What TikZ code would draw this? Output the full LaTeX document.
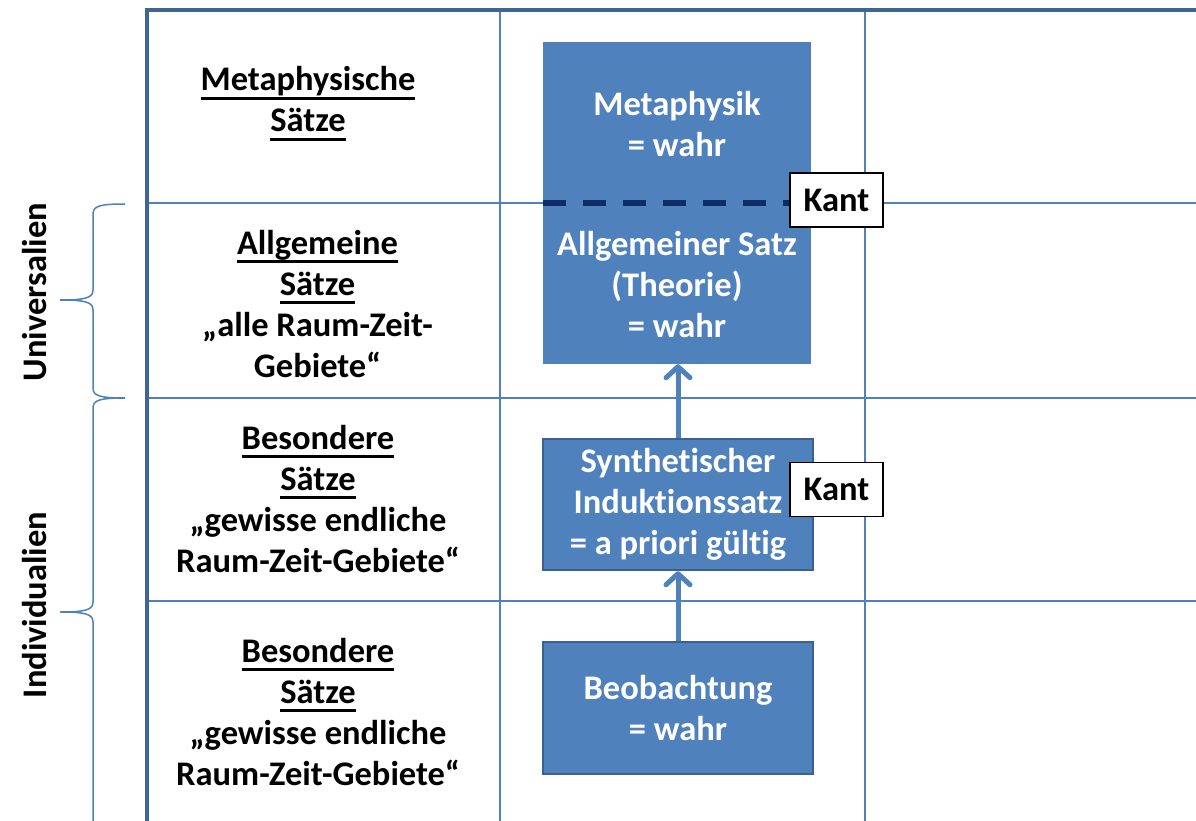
\documentclass[tikz,border=0pt]{standalone}
\usepackage{fontspec}
\setmainfont{Carlito}[Ligatures=NoCommon]
\usetikzlibrary{arrows.meta}
\definecolor{gridblue}{HTML}{4F81BD}
\definecolor{frameblue}{HTML}{3E6596}
\definecolor{boxedge}{HTML}{3A6192}
\definecolor{navy}{HTML}{0D2B66}
% underlined word with a thick rule below the baseline
\newcommand\ulword[1]{\setbox0\hbox{#1}\rlap{\rule[-9pt]{\wd0}{3pt}}\box0}
\begin{document}
\begin{tikzpicture}[x=1pt,y=-1pt,
  txt/.style={font=\fontsize{34.5}{41}\selectfont\bfseries, align=center, inner sep=0pt},
  bluebox/.style={fill=gridblue, inner sep=0pt},
  edgebox/.style={bluebox, draw=boxedge, line width=2.5pt},
  kantbox/.style={draw=black, line width=1.2pt, fill=white, minimum width=93pt, minimum height=54pt, inner sep=0pt, font=\fontsize{34.5}{41}\selectfont\bfseries},
  gridline/.style={draw=gridblue, line width=2pt},
  frameline/.style={draw=frameblue, line width=4pt},
  bracestyle/.style={draw=gridblue, line width=1.5pt},
  uparrow/.style={draw=gridblue, line width=5pt, -{Straight Barb[length=11pt,width=24pt,round]}}]
\useasboundingbox (0,0) rectangle (1196,821);
\fill[white] (0,0) rectangle (1196,821);

% table grid
\coordinate (tl) at (147,10);
\draw[gridline] (500,10) -- (500,821);
\draw[gridline] (865,10) -- (865,821);
\draw[gridline] (147,203) -- (1196,203);
\draw[gridline] (147,398) -- (1196,398);
\draw[gridline] (147,601) -- (1196,601);
\draw[frameline] (147,821) -- (tl) -- (1196,10);

% left column labels
\node[txt] (metas) at (308,103.5) {\ulword{Metaphysische}\\\ulword{Sätze}};
\node[txt] (allg) at (317.5,304) {\ulword{Allgemeine}\\\ulword{Sätze}\\„alle Raum-Zeit-\\Gebiete“};
\node[txt] (bes1) at (318,499) {\ulword{Besondere}\\\ulword{Sätze}\\„gewisse endliche\\Raum-Zeit-Gebiete“};
\node[txt] (bes2) at (318,712) {\ulword{Besondere}\\\ulword{Sätze}\\„gewisse endliche\\Raum-Zeit-Gebiete“};

% braces on the left
\draw[bracestyle] (125,204) .. controls (100,204) and (93,206) .. (93,214)
  -- (93,290) .. controls (93,298) and (85,300) .. (60,300)
  .. controls (85,300) and (93,302) .. (93,310)
  -- (93,388) .. controls (93,396) and (100,398) .. (125,398);
\draw[bracestyle] (125,398) .. controls (100,398) and (93,400) .. (93,408)
  -- (93,602) .. controls (93,610) and (85,612) .. (60,612)
  .. controls (85,612) and (93,614) .. (93,622)
  -- (93,821);
\node[txt, rotate=90] (univ) at (35,292) {Universalien};
\node[txt, rotate=90] (indiv) at (35,605) {Individualien};

% blue statement boxes
\node[bluebox, minimum width=268pt, minimum height=322pt] (theory) at (677,203) {};
\node[txt, text=white] (metaph) at (677,124) {Metaphysik\\= wahr};
\node[txt, text=white] (allgsatz) at (677,285) {Allgemeiner Satz\\(Theorie)\\= wahr};
\draw[navy, line width=5.5pt, dash pattern=on 23pt off 17pt] (theory.west |- 0,203) -- (790,203);

\node[edgebox, minimum width=270pt, minimum height=131pt, txt, text=white] (induk) at (678,504.5) {Synthetischer\\Induktionssatz\\= a priori gültig};
\node[edgebox, minimum width=270pt, minimum height=132pt, txt, text=white] (beob) at (678,708) {Beobachtung\\= wahr};

% Kant labels
\node[kantbox] (kant1) at (836.5,200) {Kant};
\node[kantbox] (kant2) at (836.5,489.5) {Kant};

% inference arrows
\draw[uparrow] (beob.north) -- (induk.south);
\draw[uparrow] (induk.north) -- (theory.south -| induk.north);
\end{tikzpicture}
\end{document}
